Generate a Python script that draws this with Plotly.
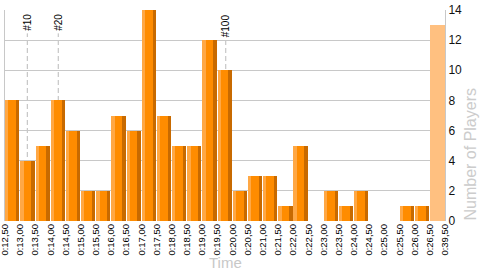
import plotly.graph_objects as go

# ---- data ----
tick_labels = ["0:12,50", "0:13,00", "0:13,50", "0:14,00", "0:14,50", "0:15,00", "0:15,50",
               "0:16,00", "0:16,50", "0:17,00", "0:17,50", "0:18,00", "0:18,50", "0:19,00",
               "0:19,50", "0:20,00", "0:20,50", "0:21,00", "0:21,50", "0:22,00", "0:22,50",
               "0:23,00", "0:23,50", "0:24,00", "0:24,50", "0:25,00", "0:25,50", "0:26,00",
               "0:26,50", "0:39,50"]
players = [8, 4, 5, 8, 6, 2, 2, 7, 6, 14, 7, 5, 5, 12, 10, 2, 3, 3, 1, 5, 0, 2, 1, 2, 0, 0, 1, 1]
rest_players = [13]          # collapsed bin 0:26,50 - 0:39,50
marker_labels = ["#10", "#20", "#100"]
marker_pos = [1.47, 3.51, 14.55]   # position in bin units
marker_top = [12.45, 12.45, 12.1]
x_title = "Time"
y_title = "Number of Players"

n = len(players)
idx = list(range(n))

fig = go.Figure()

# main bar body
fig.add_trace(go.Bar(x=[i + 0.48 for i in idx], y=players, width=[0.94] * n,
                     marker=dict(color="#FF8C00", line=dict(width=0)), hoverinfo="skip"))
# left highlight
fig.add_trace(go.Bar(x=[i + 0.12 for i in idx], y=players, width=[0.22] * n,
                     marker=dict(color="#FFA845", line=dict(width=0)), hoverinfo="skip"))
# right shade
fig.add_trace(go.Bar(x=[i + 0.84 for i in idx], y=players, width=[0.22] * n,
                     marker=dict(color="#C86A00", line=dict(width=0)), hoverinfo="skip"))
# collapsed rest bin
fig.add_trace(go.Bar(x=[n + 0.5], y=rest_players, width=[1.0],
                     marker=dict(color="#FFC080", line=dict(width=0)), hoverinfo="skip"))

for lab, xp, yt in zip(marker_labels, marker_pos, marker_top):
    fig.add_shape(type="line", x0=xp, x1=xp, y0=0, y1=yt, xref="x", yref="y",
                  layer="below", line=dict(color="#BBBBBB", width=1, dash="5px,3px"))
    fig.add_annotation(x=xp, y=1, xref="x", yref="paper", text=lab, textangle=-90,
                       showarrow=False, xanchor="center", yanchor="top", yshift=-2,
                       font=dict(family="Liberation Sans", size=10, color="#000000"))

# axis titles
fig.add_annotation(x=0.5, y=-0.195, xref="paper", yref="paper", text=x_title, showarrow=False,
                   xanchor="center", yanchor="middle",
                   font=dict(family="Liberation Sans", size=15, color="#C8C8C8"))
fig.add_annotation(x=1.0, y=0, xref="paper", yref="paper", text=y_title, showarrow=False,
                   textangle=-90, xanchor="center", yanchor="bottom", xshift=25, yshift=-2,
                   font=dict(family="Liberation Sans", size=16, color="#CCCCCC"))

fig.update_layout(
    width=500, height=275,
    margin=dict(l=5, r=55, t=10, b=54, autoexpand=False),
    paper_bgcolor="white", plot_bgcolor="white",
    barmode="overlay", bargap=0, showlegend=False,
    font=dict(family="Liberation Sans", color="#000000"),
)
fig.update_xaxes(
    range=[0, n + 1], tickmode="array", tickvals=list(range(n + 2)), ticktext=tick_labels,
    tickangle=-90, ticks="", showgrid=False, zeroline=False, showline=False,
    tickfont=dict(family="Liberation Sans", size=9.5, color="#000000"),
    ticklabeloverflow="allow", fixedrange=True, automargin=False,
)
fig.update_yaxes(
    range=[0, 14], side="right", tickmode="array", tickvals=list(range(0, 15, 2)),
    ticks="", showgrid=True, gridcolor="#C8C8C8", gridwidth=1,
    zeroline=True, zerolinecolor="#FFFFFF", zerolinewidth=1,
    showline=True, mirror=True, linecolor="#C8C8C8", linewidth=1,
    tickfont=dict(family="Liberation Sans", size=12, color="#111111"),
    ticklabeloverflow="allow", fixedrange=True, automargin=False,
)

fig.write_html("out.html", config={"displayModeBar": False})
